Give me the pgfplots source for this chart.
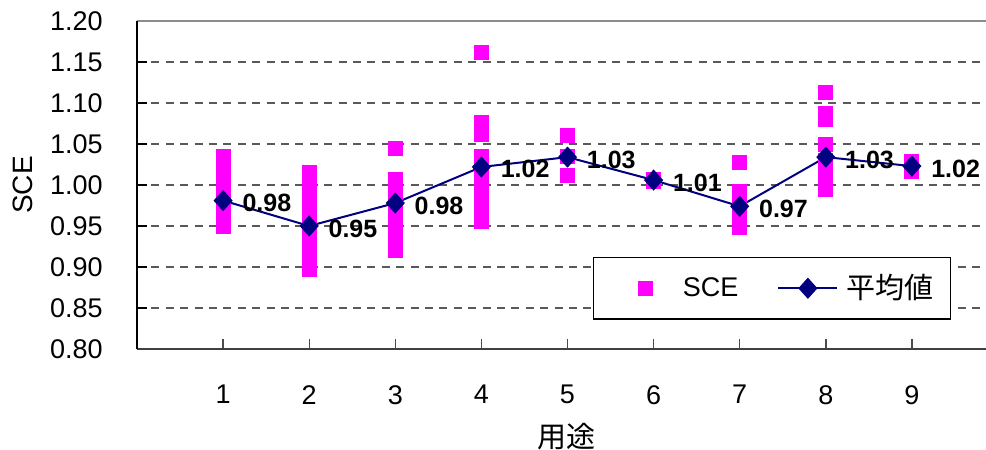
\documentclass[border=0pt]{standalone}
\usepackage{fontspec}
\setmainfont{Liberation Sans}
\newfontfamily\jp{Noto Sans CJK JP}
\usepackage{pgfplots}
\usepackage{pgfplotstable}
\pgfplotsset{compat=1.18}

\definecolor{scemag}{RGB}{255,0,255}
\definecolor{meannavy}{RGB}{0,0,128}

% legend images with fixed widths
\pgfplotsset{
  sce legend/.style={legend image code/.code={\path[draw=none, fill=none] (0pt,-5pt) rectangle (44.5pt,5pt);
    \draw[##1] plot coordinates {(26pt,0pt)};}},
  mean legend/.style={legend image code/.code={\path[draw=none, fill=none] (0pt,-5pt) rectangle (54pt,5pt);
    \draw[##1, mark repeat=2, mark phase=2] plot coordinates {(20pt,0pt) (34.75pt,0pt) (49.5pt,0pt)};}},
}

% individual SCE values per use category
\pgfplotstableread{
use sce
1 0.950
1 0.955
1 0.962
1 0.970
1 0.975
1 0.980
1 0.985
1 0.990
1 1.005
1 1.020
1 1.035
2 0.897
2 0.905
2 0.915
2 0.925
2 0.935
2 0.945
2 0.955
2 0.965
2 0.975
2 0.986
2 1.004
2 1.015
3 0.920
3 0.935
3 0.945
3 0.955
3 0.965
3 0.975
3 0.985
3 0.990
3 0.997
3 1.002
3 1.007
3 1.044
4 0.956
4 0.965
4 0.975
4 0.990
4 1.005
4 1.020
4 1.035
4 1.062
4 1.076
4 1.162
5 1.011
5 1.035
5 1.060
6 1.004
6 1.007
7 0.948
7 0.960
7 0.970
7 0.980
7 0.992
7 1.027
8 0.994
8 1.000
8 1.005
8 1.012
8 1.020
8 1.030
8 1.049
8 1.080
8 1.087
8 1.113
9 1.017
9 1.029
}\scedata

% mean SCE per use category
\pgfplotstableread{
use mean
1 0.981
2 0.950
3 0.978
4 1.022
5 1.034
6 1.006
7 0.974
8 1.034
9 1.023
}\meandata

\begin{document}
\begin{tikzpicture}
\path[use as bounding box] (0pt,0pt) rectangle (493pt,225pt);
\begin{axis}[
  at={(68.5pt,50.5pt)}, anchor=south west,
  scale only axis, width=430.5pt, height=164pt,
  xmin=0, xmax=10, ymin=0.8, ymax=1.2,
  clip=false,
  axis line style={draw=none},
  xtick={1,2,...,9},
  ytick={0.80,0.85,0.90,0.95,1.00,1.05,1.10,1.15,1.20},
  xtick pos=bottom, ytick pos=left,
  tick align=inside,
  major tick length=5pt,
  xtick style={draw=black!70, line width=0.7pt},
  ytick style={draw=black, line width=0.7pt},
  ymajorgrids,
  major grid style={draw=black!65, line width=0.6pt, dash pattern=on 4pt off 3.2pt},
  /pgf/number format/assume math mode=true,
  tick label style={font=\fontsize{13.5}{16}\selectfont, text=black},
  y tick label style={/pgf/number format/fixed, /pgf/number format/fixed zerofill, /pgf/number format/precision=2, anchor=east, inner xsep=0pt, xshift=-17pt},
  x tick label style={anchor=north, inner ysep=0pt, yshift=-18pt},
  xlabel={\jp 用途},
  xlabel style={at={(axis description cs:0.4988,-0.268)}, anchor=center, font=\fontsize{14.5}{17}\selectfont},
  ylabel={SCE},
  ylabel style={at={(axis description cs:-0.133,0.5)}, anchor=center, font=\fontsize{14}{16}\selectfont},
  legend columns=2,
  legend style={at={(axis description cs:0.9454,0.2805)}, anchor=north east,
    draw=black, line width=0.6pt, fill=white,
    inner xsep=0pt, inner ysep=8.5pt,
    nodes={inner xsep=0pt, inner ysep=0pt, font=\fontsize{13.5}{16}\selectfont},
    /tikz/every even column/.style={column sep=0pt},
    /tikz/every odd column/.style={column sep=0pt}},
]

\addplot[only marks, mark=square*, mark size=3.5pt, color=scemag,
  mark options={draw=scemag, fill=scemag, line width=0pt},
  sce legend]
  table[x=use, y=sce] {\scedata};
\addlegendentry{SCE}

\addplot[color=meannavy, line width=1pt, mark=diamond*, mark size=5pt,
  mark options={xscale=1.2, fill=meannavy, draw=meannavy, line width=0.4pt},
  nodes near coords={\pgfmathprintnumber[fixed,fixed zerofill,precision=2]{\pgfplotspointmeta}},
  nodes near coords align={anchor=west},
  every node near coord/.append style={anchor=west, inner sep=0pt, xshift=9.5pt, yshift=-1.2pt,
    font=\bfseries\fontsize{12.5}{14}\selectfont, text=black},
  mean legend]
  table[x=use, y=mean] {\meandata};
\addlegendentry{\jp\fontsize{14.5}{16}\selectfont 平均値\kern8.5pt}

% frame: light top edge, dark bottom and left edges
\draw[black!45, line width=0.7pt] (rel axis cs:0,1) -- (rel axis cs:1,1);
\draw[black!75, line width=1pt] (rel axis cs:0,0) -- (rel axis cs:1,0);
\draw[black, line width=0.8pt] (rel axis cs:0,0) -- (rel axis cs:0,1);
\end{axis}
\end{tikzpicture}
\end{document}
